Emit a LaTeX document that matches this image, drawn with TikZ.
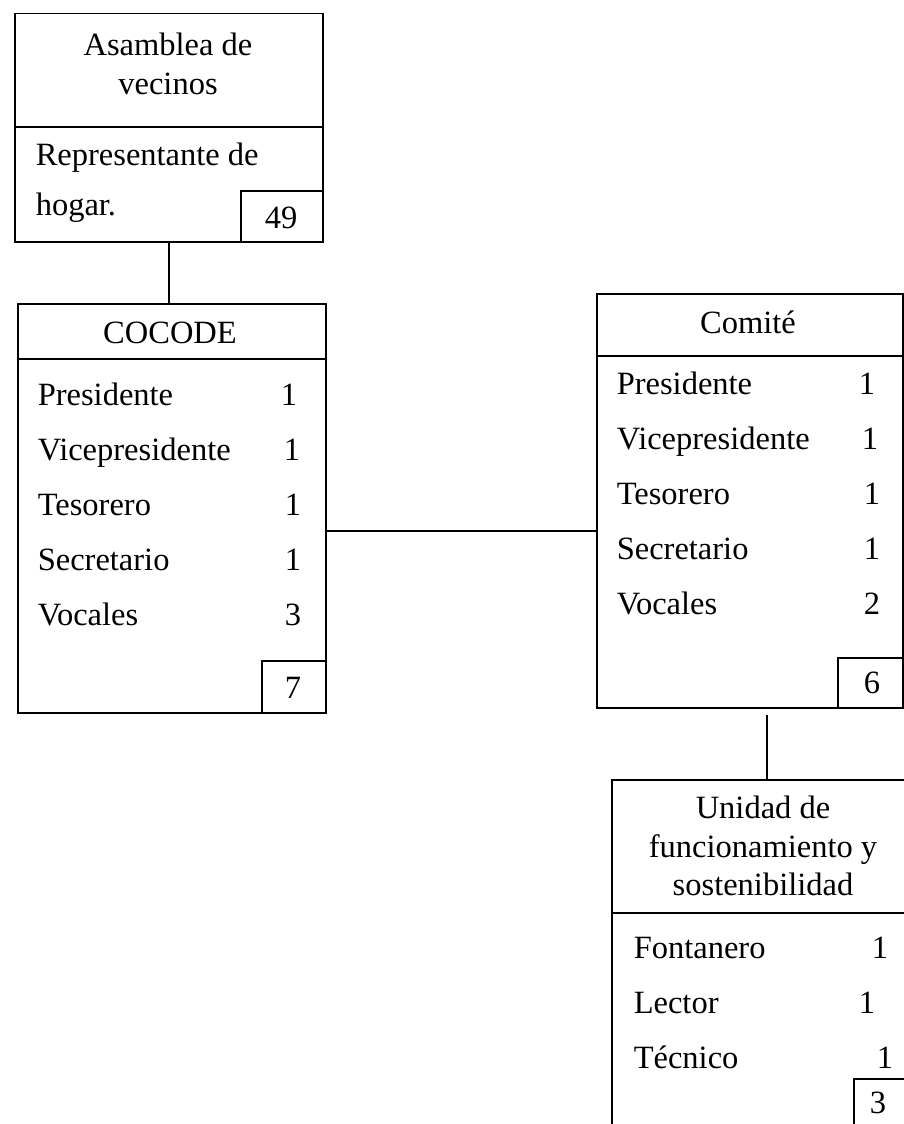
\documentclass[tikz,border=0pt]{standalone}
\usepackage{fontspec}
\setmainfont{Liberation Serif}
\begin{document}
\begin{tikzpicture}[x=1pt,y=-1pt,line width=1.5pt,
  box/.style={draw,rectangle,inner sep=0pt,anchor=north west},
  cntbox/.style={draw,rectangle,inner sep=0pt,anchor=south east},
  txt/.style={font=\fontsize{32.5}{38}\selectfont,inner sep=0pt},
  lbl/.style={txt,anchor=base west},
  num/.style={txt,anchor=base},
  ttl/.style={txt,anchor=base}]
\useasboundingbox (0,0) rectangle (904,1124);
\clip (0,0) rectangle (904,1124);
% Asamblea
\node[box,minimum width=308pt,minimum height=228pt] (asm) at (14,13) {};
\coordinate (asmdiv) at (0,127);
\draw (asm.west |- asmdiv) -- (asm.east |- asmdiv);
\node[cntbox,minimum width=82pt,minimum height=51pt] (asmc) at (asm.south east) {};
\node[ttl] (asmt1) at (168,56) {Asamblea de};
\node[ttl] (asmt2) at (168,95) {vecinos};
\node[lbl] (asmr1) at (35,165) {Representante de};
\node[lbl] (asmr2) at (35,215) {hogar.};
\node[num] (asmn) at (281,228) {49};
% COCODE
\node[box,minimum width=308pt,minimum height=409pt] (coc) at (17,303) {};
\coordinate (cocdiv) at (0,359);
\draw (coc.west |- cocdiv) -- (coc.east |- cocdiv);
\node[cntbox,minimum width=64pt,minimum height=52pt] (cocc) at (coc.south east) {};
\node[ttl] (coct) at (170,343) {COCODE};
\node[lbl] (cocl1) at (37,405) {Presidente};
\node[lbl] (cocl2) at (37,460) {Vicepresidente};
\node[lbl] (cocl3) at (37,515) {Tesorero};
\node[lbl] (cocl4) at (37,570) {Secretario};
\node[lbl] (cocl5) at (37,625) {Vocales};
\node[num] (cocn1) at (289,405) {1};
\node[num] (cocn2) at (292,460) {1};
\node[num] (cocn3) at (293,515) {1};
\node[num] (cocn4) at (293,570) {1};
\node[num] (cocn5) at (293,625) {3};
\node[num] (cocn) at (293,698) {7};
% Comite
\node[box,minimum width=306pt,minimum height=414pt] (com) at (596,293) {};
\coordinate (comdiv) at (0,356);
\draw (com.west |- comdiv) -- (com.east |- comdiv);
\node[cntbox,minimum width=65pt,minimum height=50pt] (comc) at (com.south east) {};
\node[ttl] (comt) at (748,333) {Comité};
\node[lbl] (coml1) at (616,394) {Presidente};
\node[lbl] (coml2) at (616,449) {Vicepresidente};
\node[lbl] (coml3) at (616,504) {Tesorero};
\node[lbl] (coml4) at (616,559) {Secretario};
\node[lbl] (coml5) at (616,614) {Vocales};
\node[num] (comn1) at (867,394) {1};
\node[num] (comn2) at (870,449) {1};
\node[num] (comn3) at (872,504) {1};
\node[num] (comn4) at (872,559) {1};
\node[num] (comn5) at (872,614) {2};
\node[num] (comn) at (872,693) {6};
% Unidad
\node[box,minimum width=302pt,minimum height=360pt] (uni) at (611,779) {};
\coordinate (unidiv) at (0,913);
\draw (uni.west |- unidiv) -- (uni.east |- unidiv);
\node[box,minimum width=62pt,minimum height=60pt] (unic) at (853,1078) {};
\node[ttl] (unit1) at (763,818) {Unidad de};
\node[ttl] (unit2) at (763,857) {funcionamiento y};
\node[ttl] (unit3) at (763,895) {sostenibilidad};
\node[lbl] (unil1) at (633,958) {Fontanero};
\node[lbl] (unil2) at (633,1013) {Lector};
\node[lbl] (unil3) at (633,1068) {Técnico};
\node[num] (unin1) at (880,958) {1};
\node[num] (unin2) at (867,1013) {1};
\node[num] (unin3) at (885,1068) {1};
\node[num] (unin) at (878,1113) {3};
% connectors
\draw (asm.south -| 169,0) -- (coc.north -| 169,0);
\coordinate (hy) at (0,531);
\draw (coc.east |- hy) -- (com.west |- hy);
\coordinate (vtop) at (767,715);
\draw (vtop) -- (uni.north -| vtop);
\end{tikzpicture}
\end{document}
